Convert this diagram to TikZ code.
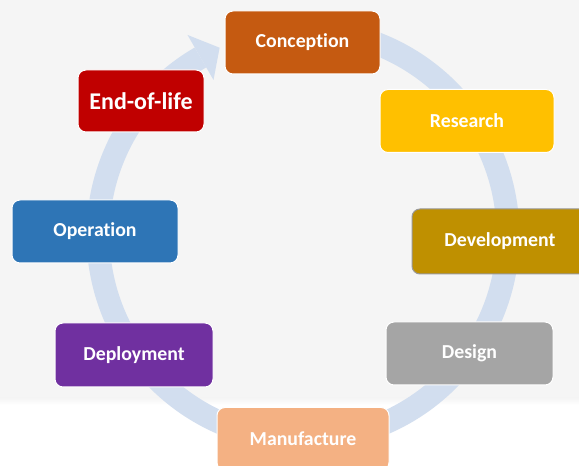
\documentclass[tikz,border=0pt]{standalone}
\usepackage{fontspec}
\setmainfont[Ligatures=NoCommon]{Carlito}
\definecolor{bggray}{RGB}{245,245,245}
\definecolor{cycblue}{RGB}{210,222,239}
\definecolor{cConception}{RGB}{197,90,17}
\definecolor{cResearch}{RGB}{255,192,0}
\definecolor{cEndoflife}{RGB}{192,0,0}
\definecolor{cOperation}{RGB}{46,117,182}
\definecolor{cDeployment}{RGB}{112,48,160}
\definecolor{cDevelopment}{RGB}{191,144,0}
\definecolor{cDesign}{RGB}{165,165,165}
\definecolor{cManufacture}{RGB}{244,177,131}

\begin{document}
\begin{tikzpicture}[x=1pt,y=1pt,
    phase/.style={rectangle,rounded corners=8pt,draw=white,line width=1pt,
                  text=white,font=\bfseries\fontsize{19.8}{23}\selectfont,
                  minimum height=63pt,inner sep=0pt},
    cyclearrow/.style={cycblue,line width=23pt}]
 % \tikzstyle{every node}=[draw=gray]

  \clip (0,0) rectangle (579,466);
  \fill[white] (0,0) rectangle (579,466);
  \fill[bggray] (0,68) rectangle (579,466);
  \shade[top color=bggray,bottom color=white] (0,61) rectangle (579,68);

  \coordinate (c) at (303,231);
  \draw[cyclearrow] ([shift={(95:205pt)}]c) arc[start angle=95,end angle=-240,radius=205pt];
  \fill[cycblue] ([shift={(120:179pt)}]c) -- ([shift={(114:205pt)}]c)
                 -- ([shift={(120:231pt)}]c) -- cycle;

  \node[phase,fill=cConception,minimum width=155pt]  (conc) at (302.5,423.5) {Conception};
  \node[phase,fill=cResearch,minimum width=174pt]    (res)  at (467,345)     {Research};
  \node[phase,fill=cDevelopment,draw=gray!80,minimum width=176pt,minimum height=65pt]
                                                     (dev)  at (500,224.5)   {Development};
  \node[phase,fill=cDesign,minimum width=167pt]      (des)  at (469.5,112.5) {Design};
  \node[phase,fill=cManufacture,minimum width=172pt] (man)  at (303,27)      {Manufacture};
  \node[phase,fill=cDeployment,minimum width=158pt,minimum height=64pt]
                                                     (dep)  at (134,111)     {Deployment};
  \node[phase,fill=cOperation,minimum width=166pt]   (op)   at (95,234.5)    {Operation};
  \node[phase,fill=cEndoflife,minimum width=126pt,minimum height=62pt,
        font=\bfseries\fontsize{24}{28}\selectfont] (eol)  at (141,365)     {End-of-life};
\end{tikzpicture}
\end{document}
